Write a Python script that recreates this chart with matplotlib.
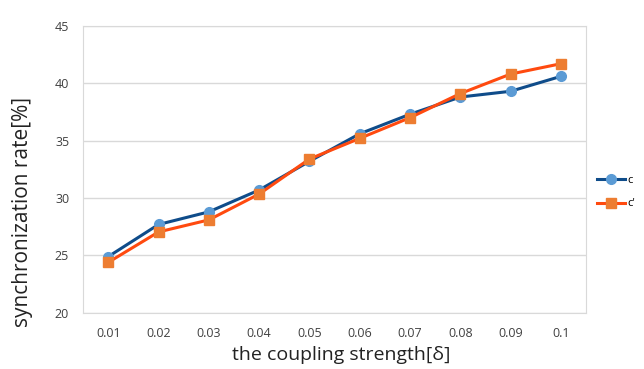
import matplotlib.pyplot as plt

plt.rcParams['font.family'] = ['Open Sans', 'DejaVu Sans']

strength = ['0.01', '0.02', '0.03', '0.04', '0.05', '0.06', '0.07', '0.08', '0.09', '0.1']
rate_c = [24.9, 27.7, 28.8, 30.7, 33.2, 35.6, 37.3, 38.8, 39.3, 40.6]
rate_c2 = [24.4, 27.05, 28.1, 30.35, 33.4, 35.2, 37.0, 39.1, 40.8, 41.7]

fig = plt.figure(figsize=(6.44, 3.69), dpi=100)
ax = fig.add_axes([0.129, 0.152, 0.781, 0.778])

x = range(len(strength))
ax.plot(x, rate_c, color='#0f4c8a', lw=2.2, marker='o', ms=7,
        mfc='#5b9bd5', mec='#5b9bd5', label='c', zorder=3)
ax.plot(x, rate_c2, color='#ff4a0f', lw=2.2, marker='s', ms=7,
        mfc='#ed7d31', mec='#ed7d31', label="c'", zorder=4)

ax.set_xlim(-0.5, len(strength) - 0.5)
ax.set_ylim(20, 45)
ax.set_yticks([20, 25, 30, 35, 40, 45])
ax.set_xticks(list(x))
ax.set_xticklabels(strength)
ax.grid(axis='y', color='#d9d9d9', lw=1)
ax.set_axisbelow(True)
for s in ax.spines.values():
    s.set_color('#d9d9d9')
ax.tick_params(length=0, labelsize=9, colors='#404040', pad=10)

ax.set_xlabel('the coupling strength[δ]', fontsize=14, color='#222222')
ax.xaxis.set_label_coords(0.513, -0.115)
ax.set_ylabel('synchronization rate[%]', fontsize=15, color='#222222')
ax.yaxis.set_label_coords(-0.10, 0.35)

ax.legend(loc='center left', bbox_to_anchor=(1.0, 0.42), frameon=False,
          fontsize=8, handlelength=2.5, handletextpad=0.2, labelspacing=1.1,
          borderaxespad=0.6)

fig.savefig('out.png', dpi=100)
